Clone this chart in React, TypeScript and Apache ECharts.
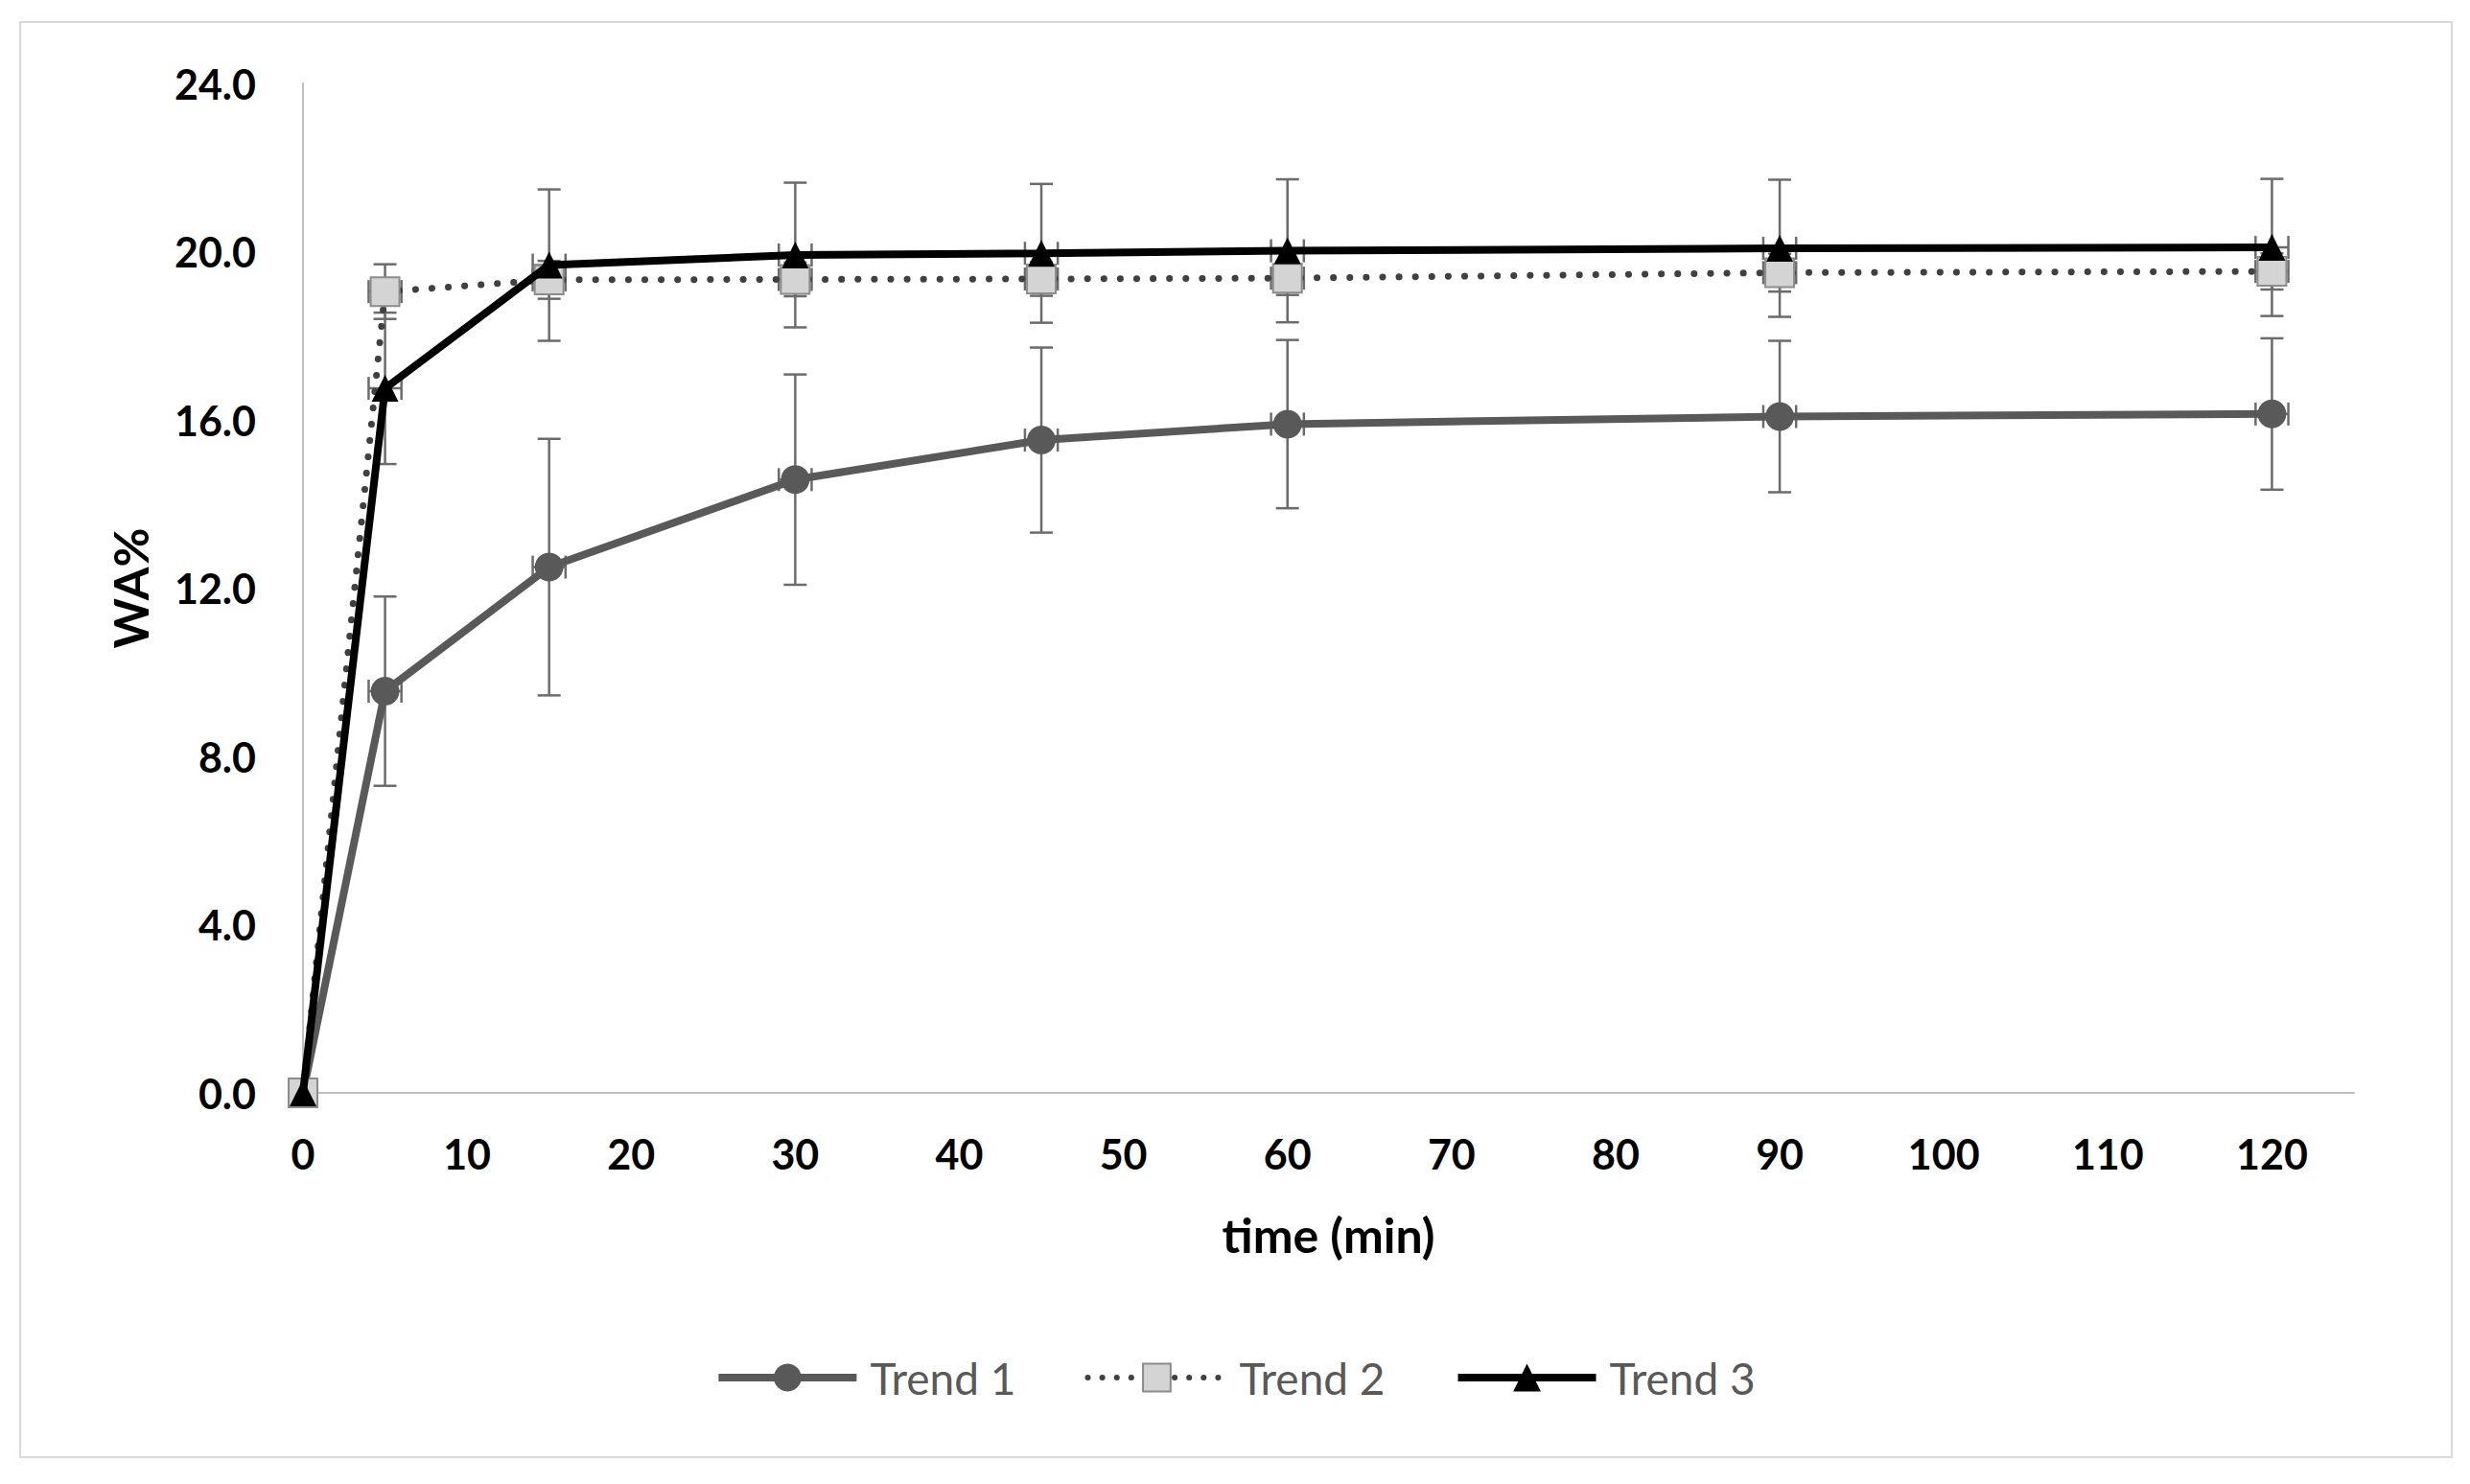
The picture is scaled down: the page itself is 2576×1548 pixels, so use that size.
import React, { useEffect, useRef } from 'react';
import * as echarts from 'echarts';

// ---- data ----
const timeMin = [0, 5, 15, 30, 45, 60, 90, 120];
const trend1 = [0, 9.55, 12.5, 14.58, 15.52, 15.9, 16.08, 16.14];
const trend1Err = [0, 2.25, 3.05, 2.5, 2.2, 2.0, 1.8, 1.8];
const trend2 = [0, 19.05, 19.33, 19.34, 19.35, 19.37, 19.5, 19.53];
const trend2Err = [0, 0.65, 0.45, 0.4, 0.4, 0.4, 0.45, 0.43];
const trend3 = [0, 16.75, 19.68, 19.92, 19.96, 20.02, 20.08, 20.1];
const trend3Err = [0, 1.8, 1.8, 1.72, 1.65, 1.7, 1.63, 1.63];
const timeErr = [0, 1, 1, 1, 1, 1, 1, 1];
const legendNames = ['Trend 1', 'Trend 2', 'Trend 3'];

const FONT = 'Lato';

const pairs = (ys: number[]) => timeMin.map((t, i) => [t, ys[i]]);
const errData = (ys: number[], es: number[]) =>
  timeMin.map((t, i) => [t, ys[i], es[i], timeErr[i]]);

const errRender = (_params: any, api: any) => {
  const x = api.value(0);
  const y = api.value(1);
  const e = api.value(2);
  const xe = api.value(3);
  if (!e && !xe) return { type: 'group', children: [] };
  const top = api.coord([x, y + e]);
  const bot = api.coord([x, y - e]);
  const lft = api.coord([x - xe, y]);
  const rgt = api.coord([x + xe, y]);
  const c = 12;
  const style = { stroke: '#6b6b6b', lineWidth: 2.5, fill: 'none' };
  const ln = (x1: number, y1: number, x2: number, y2: number) => ({
    type: 'line',
    shape: { x1, y1, x2, y2 },
    style,
  });
  return {
    type: 'group',
    children: [
      ln(top[0], top[1], bot[0], bot[1]),
      ln(top[0] - c, top[1], top[0] + c, top[1]),
      ln(bot[0] - c, bot[1], bot[0] + c, bot[1]),
      ln(lft[0], lft[1], rgt[0], rgt[1]),
      ln(lft[0], lft[1] - c, lft[0], lft[1] + c),
      ln(rgt[0], rgt[1] - c, rgt[0], rgt[1] + c),
    ],
  };
};

const dotted = { color: '#404040', width: 7, type: [0.1, 17], cap: 'round' };

export default function App() {
  const ref = useRef<HTMLDivElement>(null);
  useEffect(() => {
    document.body.style.margin = '0';
    if (!ref.current) return;
    const chart = echarts.init(ref.current, null, { renderer: 'svg' });
    chart.setOption({
      animation: false,
      backgroundColor: '#ffffff',
      graphic: [
        {
          type: 'rect',
          shape: { x: 21, y: 23, width: 2536, height: 1497 },
          style: { fill: 'none', stroke: '#d9d9d9', lineWidth: 2 },
          silent: true,
        },
      ],
      grid: { left: 316, right: 121, top: 87, bottom: 408 },
      xAxis: {
        type: 'value',
        min: 0,
        max: 125,
        interval: 10,
        name: 'time (min)',
        nameLocation: 'middle',
        nameGap: 123,
        nameTextStyle: { fontFamily: FONT, fontSize: 50, fontWeight: 'bold', color: '#000' },
        axisLine: { show: true, lineStyle: { color: '#bfbfbf', width: 2 } },
        axisTick: { show: false },
        splitLine: { show: false },
        axisLabel: {
          margin: 42,
          fontFamily: FONT,
          fontSize: 43,
          fontWeight: 'bold',
          color: '#000',
          showMaxLabel: false,
          formatter: (v: number) => (v % 10 === 0 ? String(v) : ''),
        },
      },
      yAxis: {
        type: 'value',
        min: 0,
        max: 24,
        interval: 4,
        name: 'WA%',
        nameLocation: 'middle',
        nameGap: 155,
        nameTextStyle: { fontFamily: FONT, fontSize: 50, fontWeight: 'bold', color: '#000' },
        axisLine: { show: true, lineStyle: { color: '#bfbfbf', width: 2 } },
        axisTick: { show: false },
        splitLine: { show: false },
        axisLabel: {
          margin: 49,
          fontFamily: FONT,
          fontSize: 43,
          fontWeight: 'bold',
          color: '#000',
          formatter: (v: number) => v.toFixed(1),
        },
      },
      legend: {
        data: [
          { name: legendNames[0], lineStyle: { width: 8, color: '#595959' } },
          { name: legendNames[1], lineStyle: { width: 6, color: '#404040', type: [0.1, 15], cap: 'round' } },
          { name: legendNames[2], lineStyle: { width: 8, color: '#000000' } },
        ],
        left: 'center',
        top: 1409,
        itemWidth: 144,
        itemHeight: 36,
        itemGap: 72,
        textStyle: { fontFamily: FONT, fontSize: 46, color: '#595959', padding: [0, 0, 0, 9] },
      },
      series: [
        {
          name: 'err1', type: 'custom', renderItem: errRender,
          data: errData(trend1, trend1Err), encode: { x: 0, y: 1 }, z: 1, silent: true,
        },
        {
          name: 'err2', type: 'custom', renderItem: errRender,
          data: errData(trend2, trend2Err), encode: { x: 0, y: 1 }, z: 1, silent: true,
        },
        {
          name: 'err3', type: 'custom', renderItem: errRender,
          data: errData(trend3, trend3Err), encode: { x: 0, y: 1 }, z: 1, silent: true,
        },
        {
          name: legendNames[0],
          type: 'line',
          data: pairs(trend1),
          z: 3,
          symbol: 'circle',
          symbolSize: 30,
          lineStyle: { color: '#595959', width: 8 },
          itemStyle: { color: '#595959', borderColor: '#595959', borderWidth: 0 },
        },
        {
          name: legendNames[1],
          type: 'line',
          data: pairs(trend2),
          z: 4,
          symbol: 'rect',
          symbolSize: 30,
          lineStyle: dotted,
          itemStyle: { color: '#d4d4d4', borderColor: '#8c8c8c', borderWidth: 2 },
        },
        {
          name: legendNames[2],
          type: 'line',
          data: pairs(trend3),
          z: 5,
          symbol: 'triangle',
          symbolSize: 28,
          lineStyle: { color: '#000000', width: 8 },
          itemStyle: { color: '#000000', borderWidth: 0 },
        },
      ],
    });
    return () => chart.dispose();
  }, []);
  return <div ref={ref} style={{ width: 2576, height: 1548 }} />;
}
